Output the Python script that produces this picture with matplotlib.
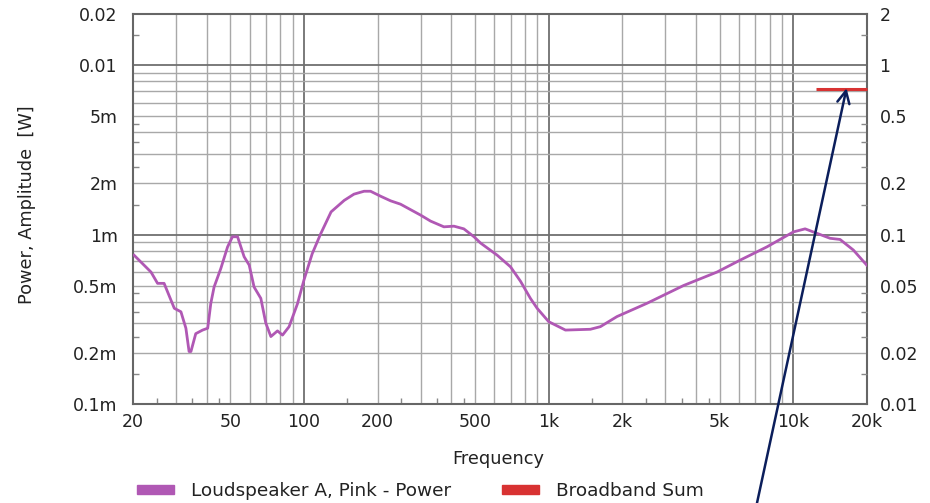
import matplotlib
matplotlib.use('Agg')
import matplotlib.pyplot as plt
from matplotlib.ticker import FixedLocator, NullFormatter
from matplotlib.patches import Patch

# ---- data ----
freq = [20.2, 23.7, 25.2, 26.8, 29.5, 31.4, 32.9, 33.9, 34.5, 36.1, 38.5, 40.4,
        41.6, 42.9, 45.7, 48.7, 51.0, 53.5, 56.9, 59.7, 62.5, 66.6, 69.8, 73.2,
        77.9, 81.7, 86.9, 94.0, 100, 108, 117, 129, 146, 160, 176, 187, 206,
        226, 248, 273, 300, 329, 373, 410, 450, 495, 527, 616, 698, 767, 842,
        897, 1000, 1171, 1481, 1627, 1902, 2524, 3558, 4870, 6061, 7792, 10006,
        11170, 14126, 15518, 17586, 19946]
power_mW = [0.755, 0.60, 0.515, 0.515, 0.367, 0.35, 0.28, 0.204, 0.204, 0.26,
            0.273, 0.28, 0.393, 0.49, 0.63, 0.845, 0.97, 0.97, 0.74, 0.66, 0.49,
            0.42, 0.30, 0.25, 0.27, 0.255, 0.286, 0.39, 0.54, 0.77, 1.01, 1.36,
            1.59, 1.73, 1.80, 1.80, 1.68, 1.58, 1.51, 1.40, 1.30, 1.20, 1.11,
            1.12, 1.08, 0.97, 0.89, 0.755, 0.645, 0.53, 0.42, 0.367, 0.306,
            0.273, 0.276, 0.286, 0.328, 0.393, 0.50, 0.60, 0.706, 0.845, 1.036,
            1.08, 0.95, 0.935, 0.81, 0.66]
bb_freq = [12400, 20000]
bb_power = [7.2e-3, 7.2e-3]
arrow_target = (16500, 7.3e-3)

x_ticks = [20, 50, 100, 200, 500, 1000, 2000, 5000, 10000, 20000]
x_labels = ['20', '50', '100', '200', '500', '1k', '2k', '5k', '10k', '20k']
yl_ticks = [1e-4, 2e-4, 5e-4, 1e-3, 2e-3, 5e-3, 1e-2, 2e-2]
yl_labels = ['0.1m', '0.2m', '0.5m', '1m', '2m', '5m', '0.01', '0.02']
yr_ticks = [0.01, 0.02, 0.05, 0.1, 0.2, 0.5, 1, 2]
yr_labels = ['0.01', '0.02', '0.05', '0.1', '0.2', '0.5', '1', '2']

power = [p * 1e-3 for p in power_mW]

plt.rcParams['font.family'] = ['DejaVu Sans']
TXT = '#222222'
PURPLE = '#b058b4'
RED = '#d83232'
NAVY = '#0b1e5b'
GRID = '#a8a8a8'
GRID_MAJ = '#707070'
TICK_FS = 12.5
LAB_FS = 12.8
LEG_FS = 13.3

fig = plt.figure(figsize=(9.3, 5.03), dpi=100)
ax = fig.add_axes([133 / 930, 1 - 404 / 503, (867 - 133) / 930, (404 - 14) / 503])
ax.set_xscale('log')
ax.set_yscale('log')
ax.set_xlim(20, 20000)
ax.set_ylim(1e-4, 2e-2)

# grid
for dec in [10, 100, 1000, 10000]:
    for m in range(1, 10):
        v = dec * m
        if 20 < v < 20000:
            ax.axvline(v, color=GRID_MAJ if m == 1 else GRID,
                       lw=1.3 if m == 1 else 1.0, zorder=0)
for dec in [1e-4, 1e-3, 1e-2]:
    for m in range(1, 10):
        v = dec * m
        if 1e-4 < v < 2e-2:
            ax.axhline(v, color=GRID_MAJ if m == 1 else GRID,
                       lw=1.3 if m == 1 else 1.0, zorder=0)

ax.plot(freq, power, color=PURPLE, lw=2.0, zorder=3)
ax.plot(bb_freq, bb_power, color=RED, lw=2.2, zorder=3, clip_on=False,
        solid_capstyle='butt')

ax.xaxis.set_major_locator(FixedLocator(x_ticks))
ax.set_xticklabels(x_labels)
ax.yaxis.set_major_locator(FixedLocator(yl_ticks))
ax.set_yticklabels(yl_labels)
xminor = [m * d for d in [10, 100, 1000] for m in (1.5, 2.5, 3.5, 4.5) if 20 < m * d < 20000]
yminor = [m * d for d in [1e-4, 1e-3, 1e-2] for m in (1.5, 2.5, 3.5, 4.5) if 1e-4 < m * d < 2e-2]
ax.xaxis.set_minor_locator(FixedLocator(xminor))
ax.yaxis.set_minor_locator(FixedLocator(yminor))
ax.xaxis.set_minor_formatter(NullFormatter())
ax.yaxis.set_minor_formatter(NullFormatter())
ax.tick_params(which='major', length=0, labelsize=TICK_FS, colors=TXT)
ax.tick_params(axis='x', which='major', pad=6.5)
ax.tick_params(axis='y', which='major', pad=11)
ax.tick_params(which='minor', direction='in', length=4, width=1, color='#888888')
for s in ax.spines.values():
    s.set_color('#666666')
    s.set_linewidth(1.5)

ax2 = ax.twinx()
ax2.set_yscale('log')
ax2.set_ylim(0.01, 2)
ax2.yaxis.set_major_locator(FixedLocator(yr_ticks))
ax2.set_yticklabels(yr_labels)
yrminor = [m * d for d in [0.01, 0.1, 1] for m in (1.5, 2.5, 3.5, 4.5) if 0.01 < m * d < 2]
ax2.yaxis.set_minor_locator(FixedLocator(yrminor))
ax2.yaxis.set_minor_formatter(NullFormatter())
ax2.tick_params(which='major', length=0, labelsize=TICK_FS, colors=TXT, pad=9)
ax2.tick_params(which='minor', direction='in', length=4, width=1, color='#888888')
for s in ax2.spines.values():
    s.set_visible(False)

ax.set_xlabel('Frequency', fontsize=LAB_FS, color=TXT)
ax.xaxis.set_label_coords((498 - 133) / 734, (404 - 450) / 390)
ax.set_ylabel('Power, Amplitude  [W]', fontsize=LAB_FS, color=TXT)
ax.yaxis.set_label_coords((36 - 133) / 734, 0.51)

ax.annotate('', xy=arrow_target, xycoords='data',
            xytext=(757 / 930, 0.0), textcoords='figure fraction',
            arrowprops=dict(arrowstyle='->', color=NAVY, lw=1.8,
                            mutation_scale=22, shrinkA=0, shrinkB=0),
            annotation_clip=False, zorder=5)

handles = [Patch(color=PURPLE), Patch(color=RED)]
leg = fig.legend(handles, ['Loudspeaker A, Pink - Power', 'Broadband Sum'],
                 ncol=2, loc='center left', bbox_to_anchor=(137 / 930, 1 - 491 / 503),
                 frameon=False, fontsize=LEG_FS, handlelength=2.0, handleheight=0.37,
                 columnspacing=2.75, handletextpad=0.92, borderaxespad=0, borderpad=0)
for t in leg.get_texts():
    t.set_color(TXT)

fig.savefig('out.png', dpi=100)
